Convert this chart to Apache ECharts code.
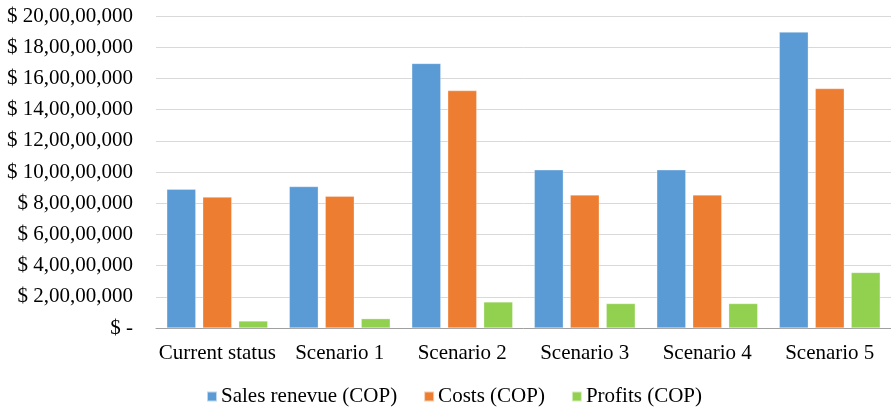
<!DOCTYPE html>
<html>
<head>
<meta charset="utf-8">
<script src="https://cdn.jsdelivr.net/npm/echarts@6/dist/echarts.min.js"></script>
<style>
  html, body { margin: 0; padding: 0; background: #ffffff; }
  #chart { width: 891px; height: 408px; }
</style>
</head>
<body>
<div id="chart"></div>
<script>
// Scenario comparison in Colombian pesos
const categories = ['Current status', 'Scenario 1', 'Scenario 2', 'Scenario 3', 'Scenario 4', 'Scenario 5'];
const salesRevenue = [89000000, 90700000, 169600000, 101400000, 101400000, 189700000];
const costs = [83900000, 84500000, 152200000, 85300000, 85300000, 153500000];
const profits = [4500000, 6000000, 16700000, 15700000, 15700000, 35600000];
const seriesNames = ['Sales renevue (COP)', 'Costs (COP)', 'Profits (COP)'];
const yTicks = { min: 0, max: 200000000, step: 20000000 };

const FONT = '"Liberation Serif", "Times New Roman", serif';
const FONT_SIZE = 21;

// Indian-style digit grouping: 20,00,00,000
function groupIndian(n) {
  const s = String(Math.round(n));
  if (s.length <= 3) return s;
  const last3 = s.slice(-3);
  let rest = s.slice(0, -3);
  const parts = [];
  while (rest.length > 2) {
    parts.unshift(rest.slice(-2));
    rest = rest.slice(0, -2);
  }
  if (rest.length) parts.unshift(rest);
  return parts.join(',') + ',' + last3;
}

function money(v) {
  return v === 0 ? '$ -' : '$ ' + groupIndian(v);
}

const chart = echarts.init(document.getElementById('chart'), null, { renderer: 'canvas' });

const barStyle = (color) => ({
  type: 'bar',
  barWidth: 29,
  barGap: '24%',
  itemStyle: { color: color, borderColor: 'rgba(255,255,255,0.6)', borderWidth: 0.5 },
  emphasis: { disabled: true }
});

chart.setOption({
  animation: false,
  backgroundColor: '#ffffff',
  textStyle: { fontFamily: FONT },
  grid: { left: 156, top: 16, width: 737, bottom: 80, containLabel: false },
  legend: {
    left: 201,
    top: 381,
    icon: 'rect',
    itemWidth: 10,
    itemHeight: 10,
    itemGap: 26,
    textStyle: { fontFamily: FONT, fontSize: FONT_SIZE, color: '#000000', padding: [0, 0, 0, -1] },
    data: seriesNames
  },
  xAxis: {
    type: 'category',
    data: categories,
    axisLine: { show: true, lineStyle: { color: '#a0a0a0', width: 1 } },
    axisTick: { show: false },
    axisLabel: { interval: 0, fontFamily: FONT, fontSize: FONT_SIZE, color: '#000000', margin: 15 },
    splitLine: { show: false }
  },
  yAxis: {
    type: 'value',
    min: yTicks.min,
    max: yTicks.max,
    interval: yTicks.step,
    axisLine: { show: false },
    axisTick: { show: false },
    axisLabel: { fontFamily: FONT, fontSize: FONT_SIZE, color: '#000000', margin: 23, formatter: money },
    splitLine: { show: true, lineStyle: { color: '#d9d9d9', width: 1 } }
  },
  series: [
    Object.assign(barStyle('#5b9bd5'), { name: seriesNames[0], data: salesRevenue }),
    Object.assign(barStyle('#ed7d31'), { name: seriesNames[1], data: costs }),
    Object.assign(barStyle('#92d050'), { name: seriesNames[2], data: profits })
  ]
});
</script>
</body>
</html>
